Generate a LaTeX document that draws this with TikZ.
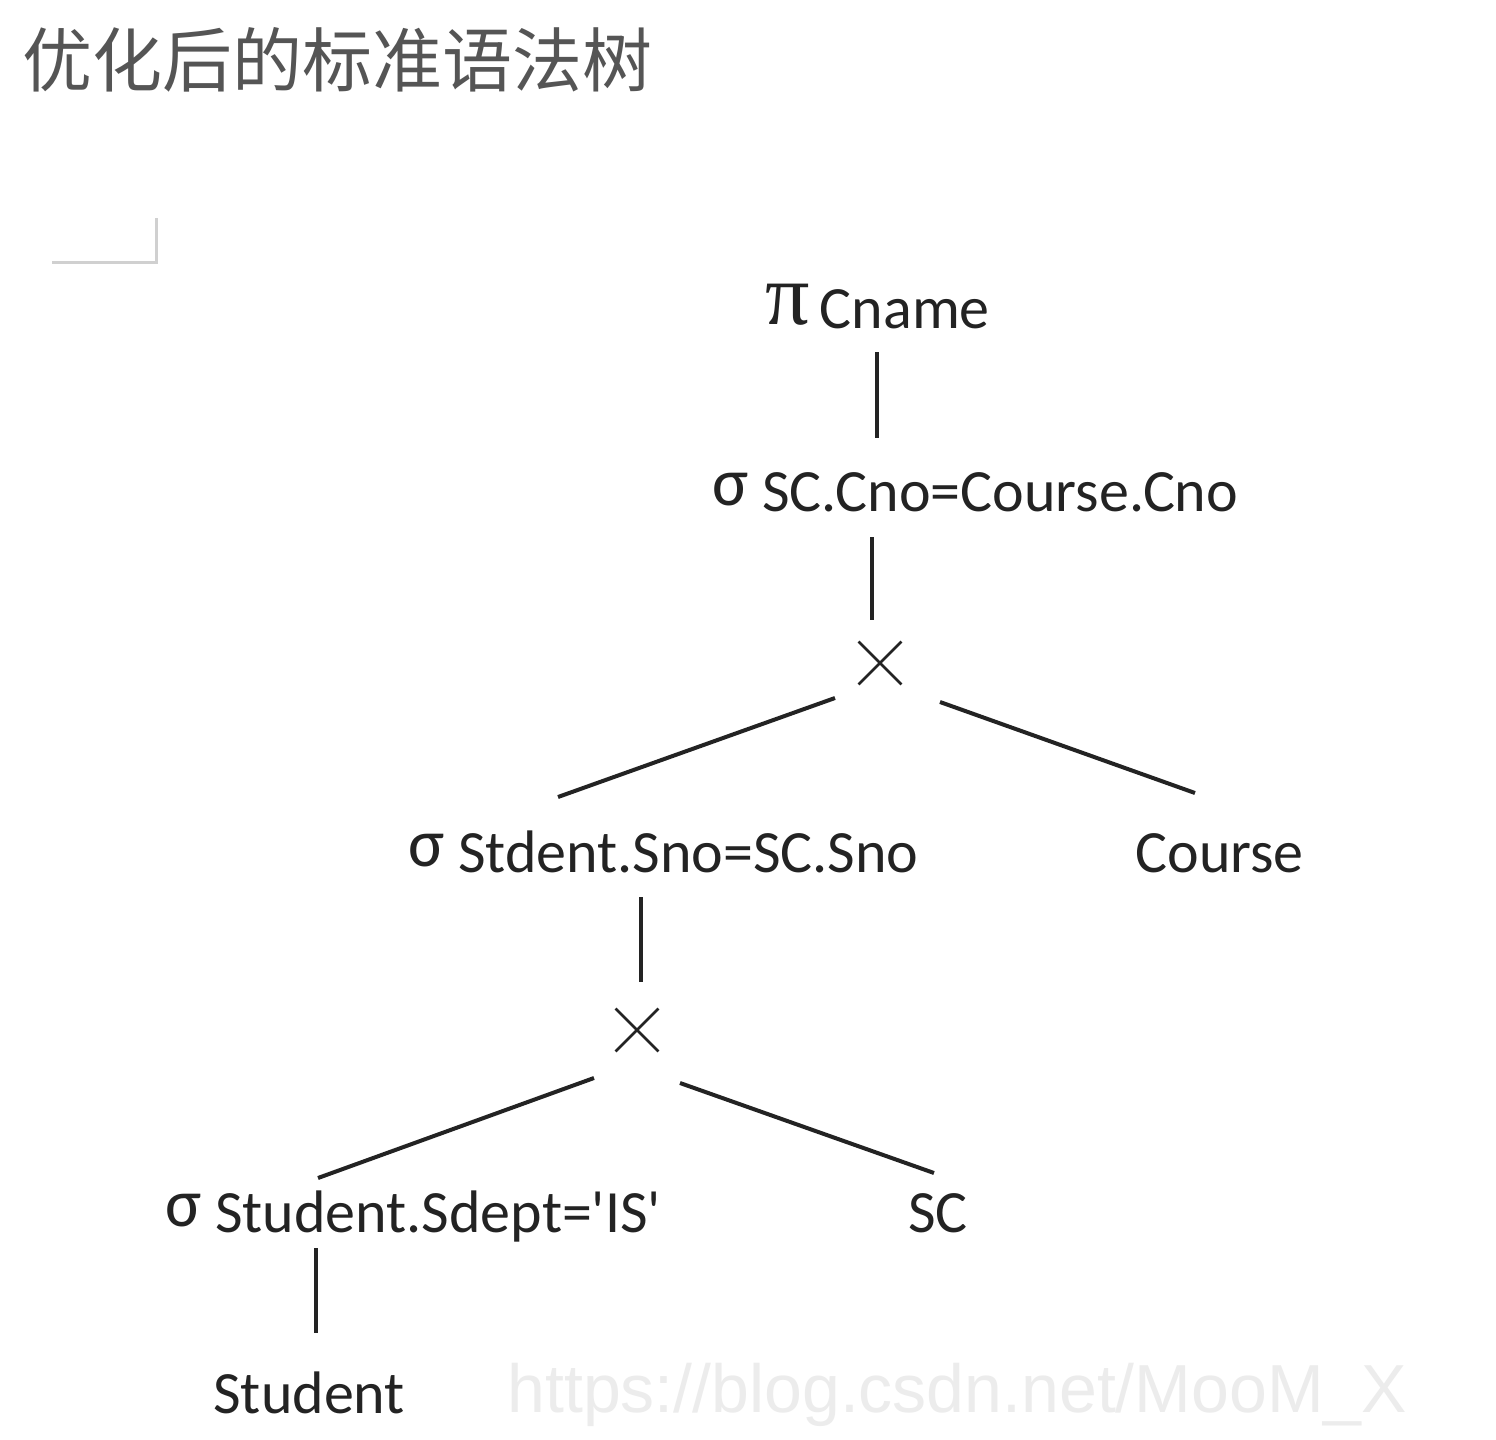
\documentclass[tikz,border=0pt]{standalone}
\usepackage{fontspec}
\setmainfont{Carlito}
\newfontfamily\cjkfont{Noto Sans CJK SC}
\newfontfamily\wmfont{Liberation Sans}
\newfontfamily\symfont{Liberation Serif}
\usetikzlibrary{calc,shapes.misc}
\definecolor{ink}{HTML}{232323}
\definecolor{titlegray}{HTML}{555555}
\definecolor{markgray}{HTML}{D0D0D0}
\definecolor{wmgray}{HTML}{ECECEC}
\newcommand{\mysig}{{\fontsize{34pt}{34pt}\selectfont\raisebox{3pt}{σ}}}
\newcommand{\mypi}{{\symfont\fontsize{44pt}{44pt}\selectfont\raisebox{2pt}{π}}}
\newcommand{\sq}{\textquotesingle}
\tikzset{
  lbl/.style={anchor=base west, inner sep=0pt, text=ink, font=\fontsize{30pt}{30pt}\selectfont},
  prodop/.style={cross out, draw=ink, line width=1.4pt, minimum size=20pt, inner sep=0pt},
  edge/.style={draw=ink, line width=2pt},
}
\begin{document}
\begin{tikzpicture}[x=0.5pt,y=-0.5pt]
\fill[white] (0,0) rectangle (1496,1440);
\useasboundingbox (0,0) rectangle (1496,1440);
% title
\node[anchor=west, inner sep=0pt, text=titlegray, font=\cjkfont\fontsize{35pt}{35pt}\selectfont] (title) at (22,60) {优化后的标准语法树};
% corner mark
\draw[markgray, line width=1.5pt] (52,262) -- (156,262) -- (156,218);
% watermark
\node[anchor=base west, inner sep=0pt, text=wmgray, font=\wmfont\fontsize{34pt}{34pt}\selectfont] (wm) at (507,1412) {https://blog.csdn.net/MooM\_X};
% nodes
\node[lbl] (pi) at (765,328) {\mypi\,Cname};
\node[lbl] (s1) at (712,511) {\mysig\ SC.Cno=Course.Cno};
\node[prodop] (x1) at (880,663) {};
\node[lbl] (s2) at (408,872) {\mysig\ Stdent.Sno=SC.Sno};
\node[lbl] (course) at (1135,872) {Course};
\node[prodop] (x2) at (637,1030) {};
\node[lbl] (s3) at (165,1232) {\mysig\ Student.Sdept=\sq IS\sq};
\node[lbl] (sc) at (908,1232) {SC};
\node[lbl] (student) at (213,1413) {Student};
% connectors
\draw[edge] ($(pi.base west)+(112,24)$) -- ($(s1.base west)+(165,-73)$);
\draw[edge] ($(s1.base west)+(160,26)$) -- ($(x1.center)+(-8,-43)$);
\draw[edge] ($(x1.center)+(-45,35)$) -- ($(s2.base west)+(150,-75)$);
\draw[edge] ($(x1.center)+(60,39)$) -- ($(course.base west)+(60,-79)$);
\draw[edge] ($(s2.base west)+(233,25)$) -- ($(x2.center)+(4,-48)$);
\draw[edge] ($(x2.center)+(-43,48)$) -- ($(s3.base west)+(153,-54)$);
\draw[edge] ($(x2.center)+(43,53)$) -- ($(sc.base west)+(26,-59)$);
\draw[edge] ($(s3.base west)+(151,16)$) -- ($(student.base west)+(103,-80)$);
\end{tikzpicture}
\end{document}
